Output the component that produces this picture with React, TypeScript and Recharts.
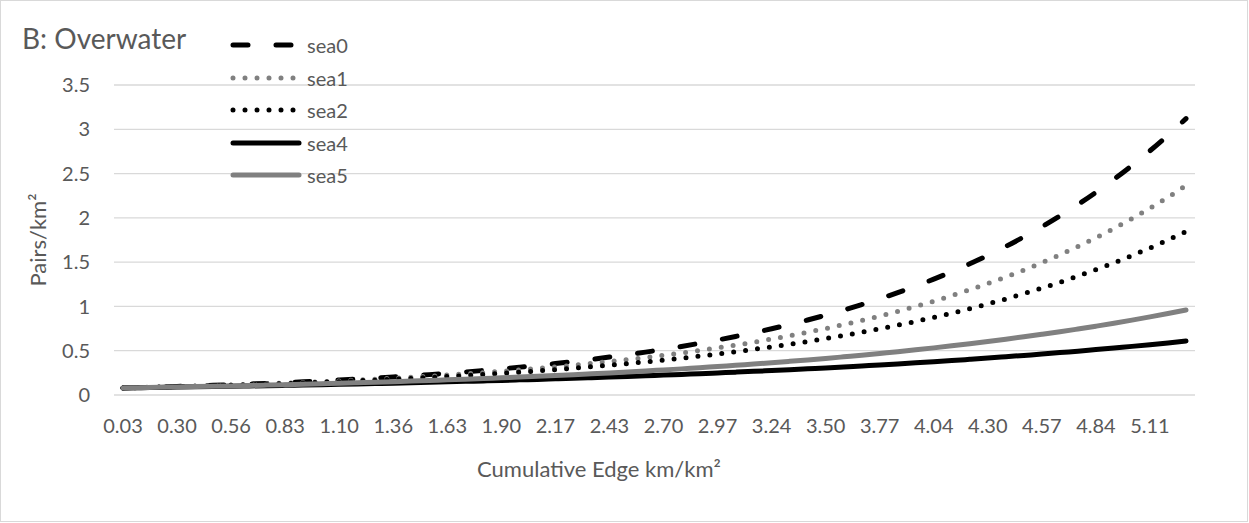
import { LineChart, Line, XAxis, YAxis, CartesianGrid, Legend } from "recharts";

const CATEGORIES = [
    "0.03", "0.12", "0.21", "0.30", "0.39", "0.48", "0.56", "0.65", "0.74", "0.83",
    "0.92", "1.01", "1.10", "1.19", "1.28", "1.36", "1.45", "1.54", "1.63", "1.72",
    "1.81", "1.90", "1.99", "2.08", "2.17", "2.26", "2.34", "2.43", "2.52", "2.61",
    "2.70", "2.79", "2.88", "2.97", "3.06", "3.15", "3.24", "3.33", "3.41", "3.50",
    "3.59", "3.68", "3.77", "3.86", "3.95", "4.04", "4.13", "4.22", "4.30", "4.39",
    "4.48", "4.57", "4.66", "4.75", "4.84", "4.93", "5.02", "5.11", "5.20", "5.29"
];

const SEA0 = [
    0.080, 0.085, 0.091, 0.096, 0.103, 0.109, 0.116, 0.124, 0.131, 0.140,
    0.149, 0.158, 0.169, 0.179, 0.191, 0.203, 0.216, 0.230, 0.245, 0.260,
    0.277, 0.295, 0.314, 0.334, 0.355, 0.378, 0.402, 0.428, 0.455, 0.484,
    0.515, 0.548, 0.584, 0.621, 0.661, 0.703, 0.748, 0.796, 0.847, 0.901,
    0.959, 1.021, 1.086, 1.156, 1.230, 1.308, 1.392, 1.481, 1.576, 1.677,
    1.785, 1.899, 2.021, 2.150, 2.288, 2.435, 2.591, 2.757, 2.933, 3.121
];

const SEA1 = [
    0.080, 0.085, 0.090, 0.095, 0.101, 0.107, 0.113, 0.120, 0.127, 0.134,
    0.142, 0.150, 0.159, 0.169, 0.179, 0.189, 0.200, 0.212, 0.225, 0.238,
    0.252, 0.267, 0.283, 0.300, 0.317, 0.336, 0.356, 0.377, 0.399, 0.423,
    0.448, 0.474, 0.502, 0.532, 0.563, 0.596, 0.632, 0.669, 0.709, 0.750,
    0.795, 0.842, 0.891, 0.944, 1.000, 1.059, 1.122, 1.188, 1.258, 1.332,
    1.411, 1.494, 1.583, 1.676, 1.775, 1.880, 1.991, 2.109, 2.233, 2.365
];

const SEA2 = [
    0.080, 0.084, 0.089, 0.094, 0.099, 0.104, 0.110, 0.116, 0.122, 0.129,
    0.136, 0.144, 0.151, 0.160, 0.168, 0.178, 0.187, 0.198, 0.208, 0.220,
    0.232, 0.245, 0.258, 0.272, 0.287, 0.302, 0.319, 0.336, 0.355, 0.374,
    0.395, 0.416, 0.439, 0.463, 0.488, 0.515, 0.543, 0.573, 0.604, 0.637,
    0.672, 0.709, 0.747, 0.788, 0.831, 0.877, 0.924, 0.975, 1.028, 1.084,
    1.144, 1.206, 1.272, 1.342, 1.415, 1.492, 1.574, 1.660, 1.750, 1.846
];

const SEA4 = [
    0.080, 0.083, 0.086, 0.089, 0.092, 0.095, 0.098, 0.102, 0.105, 0.109,
    0.113, 0.117, 0.121, 0.125, 0.129, 0.134, 0.139, 0.144, 0.149, 0.154,
    0.159, 0.165, 0.171, 0.176, 0.183, 0.189, 0.196, 0.203, 0.210, 0.217,
    0.225, 0.232, 0.241, 0.249, 0.258, 0.267, 0.276, 0.286, 0.296, 0.306,
    0.317, 0.328, 0.339, 0.351, 0.363, 0.376, 0.389, 0.403, 0.417, 0.432,
    0.447, 0.462, 0.479, 0.495, 0.513, 0.531, 0.549, 0.568, 0.588, 0.609
];

const SEA5 = [
    0.080, 0.083, 0.087, 0.091, 0.095, 0.099, 0.103, 0.107, 0.112, 0.117,
    0.122, 0.127, 0.133, 0.138, 0.144, 0.150, 0.157, 0.164, 0.171, 0.178,
    0.186, 0.194, 0.202, 0.211, 0.220, 0.229, 0.239, 0.249, 0.260, 0.271,
    0.283, 0.295, 0.308, 0.321, 0.335, 0.349, 0.364, 0.380, 0.396, 0.413,
    0.431, 0.449, 0.469, 0.489, 0.510, 0.532, 0.555, 0.579, 0.604, 0.630,
    0.657, 0.685, 0.714, 0.745, 0.777, 0.810, 0.845, 0.882, 0.920, 0.959
];

const Y_TICKS = [0, 0.5, 1, 1.5, 2, 2.5, 3, 3.5];

const SERIES = [
    { key: "sea0", color: "#000000", dash: "15 28" },
    { key: "sea1", color: "#808080", dash: "0 12" },
    { key: "sea2", color: "#000000", dash: "0 12" },
    { key: "sea4", color: "#000000", dash: undefined },
    { key: "sea5", color: "#808080", dash: undefined }
];

const data = CATEGORIES.map((x, i) => ({
    x,
    sea0: SEA0[i],
    sea1: SEA1[i],
    sea2: SEA2[i],
    sea4: SEA4[i],
    sea5: SEA5[i]
}));

const FONT = "Lato, 'Open Sans', sans-serif";
const TEXT = "#595959";

function renderLegend() {
    return (
        <div style={{ fontFamily: FONT, fontSize: 20, color: TEXT }}>
            {SERIES.map((s) => (
                <div key={s.key} style={{ display: "flex", alignItems: "center", height: 32.5 }}>
                    <svg width={74} height={12}>
                        <line
                            x1={3} y1={6} x2={69} y2={6}
                            stroke={s.color}
                            strokeWidth={5}
                            strokeLinecap="round"
                            strokeDasharray={s.dash}
                        />
                    </svg>
                    <span style={{ marginLeft: 3 }}>{s.key}</span>
                </div>
            ))}
        </div>
    );
}

export default function App() {
    return (
        <div style={{ position: "absolute", left: 0, top: 0, width: 1249, height: 523, background: "#fff" }}>
            <div style={{
                position: "absolute", left: 0, top: 0, width: 1248, height: 522,
                border: "1px solid #d9d9d9", boxSizing: "border-box"
            }} />
            <div style={{
                position: "absolute", left: 22, top: 24, fontFamily: FONT, fontSize: 28,
                lineHeight: "28px", color: TEXT, zIndex: 2
            }}>
                B: Overwater
            </div>
            <LineChart
                width={1249}
                height={523}
                data={data}
                margin={{ top: 85, right: 54, bottom: 98, left: 54 }}
            >
                <CartesianGrid vertical={false} stroke="#d9d9d9" strokeWidth={1.3} />
                <XAxis
                    dataKey="x"
                    interval={2}
                    height={30}
                    axisLine={false}
                    tickLine={false}
                    tickSize={0}
                    tickMargin={24}
                    padding={{ left: 9, right: 9 }}
                    tick={{ fontSize: 20, fill: TEXT, fontFamily: FONT }}
                    label={{
                        content: (props: any) => (
                            <text
                                x={props.viewBox.x + 485}
                                y={props.viewBox.y + 82}
                                textAnchor="middle"
                                fontSize={22}
                                fill={TEXT}
                                fontFamily={FONT}
                            >
                                Cumulative Edge km/km²
                            </text>
                        )
                    }}
                />
                <YAxis
                    domain={[0, 3.5]}
                    ticks={Y_TICKS}
                    width={60}
                    axisLine={false}
                    tickLine={false}
                    tickSize={0}
                    tickMargin={24}
                    tick={{ fontSize: 20, fill: TEXT, fontFamily: FONT }}
                    label={{
                        content: (props: any) => {
                            const cx = 37;
                            const cy = props.viewBox.y + props.viewBox.height / 2;
                            return (
                                <text
                                    x={cx}
                                    y={cy}
                                    transform={`rotate(-90 ${cx} ${cy})`}
                                    textAnchor="middle"
                                    dominantBaseline="central"
                                    fontSize={22}
                                    fill={TEXT}
                                    fontFamily={FONT}
                                >
                                    Pairs/km²
                                </text>
                            );
                        }
                    }}
                />
                <Legend
                    layout="vertical"
                    align="center"
                    verticalAlign="middle"
                    wrapperStyle={{ left: 230, top: 29, width: 140 }}
                    content={renderLegend}
                />
                {SERIES.map((s) => (
                    <Line
                        key={s.key}
                        type="monotone"
                        dataKey={s.key}
                        stroke={s.color}
                        strokeWidth={5}
                        strokeLinecap="round"
                        strokeDasharray={s.dash}
                        dot={false}
                        activeDot={false}
                        isAnimationActive={false}
                    />
                ))}
            </LineChart>
        </div>
    );
}
